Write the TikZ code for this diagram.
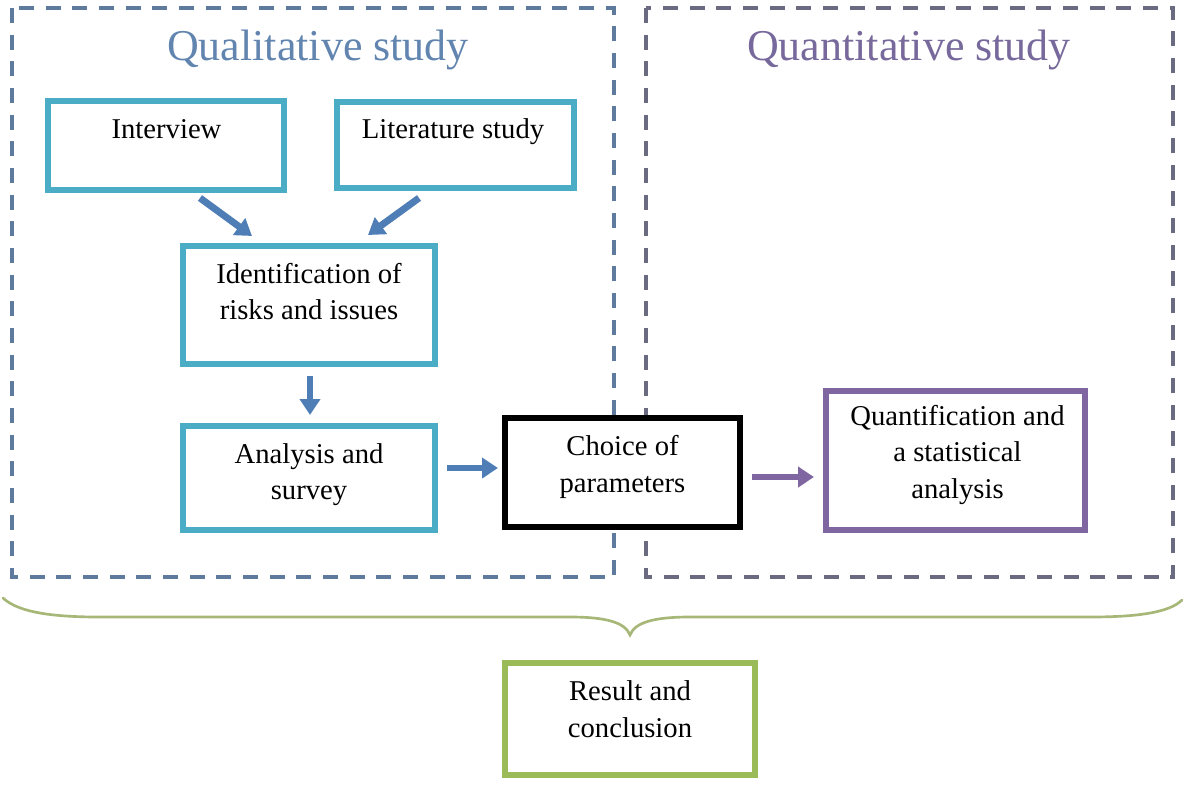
\documentclass[tikz,border=0pt]{standalone}
\usepackage{fontspec}
\setmainfont{Liberation Serif}
\usetikzlibrary{arrows.meta,calc}
\definecolor{tealbox}{HTML}{4BACC6}
\definecolor{bluearrow}{HTML}{4F7DB5}
\definecolor{purplebox}{HTML}{7F66A0}
\definecolor{greenbox}{HTML}{9BBB59}
\definecolor{leftdash}{HTML}{5E7B9E}
\definecolor{rightdash}{HTML}{6A6A80}
\definecolor{lefttitle}{HTML}{6285B0}
\definecolor{righttitle}{HTML}{77699B}
\definecolor{bracec}{HTML}{A6B777}
\begin{document}
\begin{tikzpicture}[x=0.75pt,y=-0.75pt,
  boxbase/.style={rectangle, inner sep=0pt, outer sep=0pt, fill=white},
  tbox/.style={boxbase, draw=tealbox, line width=4.2pt},
  kbox/.style={boxbase, draw=black, line width=3.8pt},
  pbox/.style={boxbase, draw=purplebox, line width=4.2pt},
  gbox/.style={boxbase, draw=greenbox, line width=4.2pt},
  txt/.style={inner sep=0pt, align=center, font=\fontsize{21.5}{27.5}\selectfont},
  title/.style={inner sep=0pt, font=\fontsize{33}{40}\selectfont, anchor=base},
  frame/.style={line width=2.3pt, dash pattern=on 11.25pt off 8.75pt},
  barrow/.style={draw=bluearrow, line width=5.2pt, -{Triangle[length=12pt,width=15pt]}},
  parrow/.style={draw=purplebox, line width=5.2pt, -{Triangle[length=12pt,width=15pt]}}
]
\path[use as bounding box] (0,0) rectangle (1184,785);

% dashed frames
\draw[frame, draw=leftdash] (12,8) rectangle (614,577);
\draw[frame, draw=rightdash] (646,8) rectangle (1173,577);

% titles
\node[title, text=lefttitle] (qualt) at (318,60) {Qualitative study};
\node[title, text=righttitle] (quant) at (909,60) {Quantitative study};

% boxes
\node[tbox, minimum width=236*0.75pt, minimum height=89*0.75pt] (interview) at (166,145.5) {};
\node[txt, anchor=base] (interviewt) at (166.5,138) {Interview};

\node[tbox, minimum width=237*0.75pt, minimum height=86*0.75pt] (lit) at (455.5,145) {};
\node[txt, anchor=base] (litt) at (453,138) {Literature study};

\node[tbox, minimum width=252*0.75pt, minimum height=118*0.75pt] (ident) at (309,305) {};
\node[txt] (identt) at (309,291.7) {Identification of\\risks and issues};

\node[tbox, minimum width=252*0.75pt, minimum height=104*0.75pt] (analysis) at (309,478) {};
\node[txt] (analysist) at (309,474.8) {Analysis and\\survey};

\node[kbox, minimum width=235*0.75pt, minimum height=109*0.75pt] (choice) at (622.5,472.5) {};
\node[txt] (choicet) at (622.5,466.8) {Choice of\\parameters};

\node[pbox, minimum width=259*0.75pt, minimum height=139*0.75pt] (quantbox) at (955.5,460.5) {};
\node[txt] (quantt) at (957.5,454.8) {Quantification and\\a statistical\\analysis};

\node[gbox, minimum width=250*0.75pt, minimum height=112*0.75pt] (result) at (630,719) {};
\node[txt] (resultt) at (630,709.2) {Result and\\conclusion};

% arrows
\draw[barrow] ($(interview.south)+(34,8)$) -- ($(ident.north)+(-57,-10)$);
\draw[barrow] ($(lit.south)+(-36.5,10)$) -- ($(ident.north)+(59,-11)$);
\draw[barrow] ($(ident.south)+(1,12)$) -- ($(analysis.north)+(1,-11)$);
\draw[barrow] ($(analysis.east)+(12,-10)$) -- ($(choice.west)+(-7,-4.5)$);
\draw[parrow] ($(choice.east)+(12,4.5)$) -- ($(quantbox.west)+(-12,16.5)$);

% brace
\draw[draw=bracec, line width=2pt, line cap=round]
  (3,598) .. controls (20,614) and (60,617) .. (100,617) -- (570,617)
  .. controls (605,617) and (625,622) .. (630,635)
  .. controls (635,622) and (655,617) .. (690,617) -- (1090,617)
  .. controls (1140,617) and (1170,612) .. (1182,600);
\end{tikzpicture}
\end{document}
